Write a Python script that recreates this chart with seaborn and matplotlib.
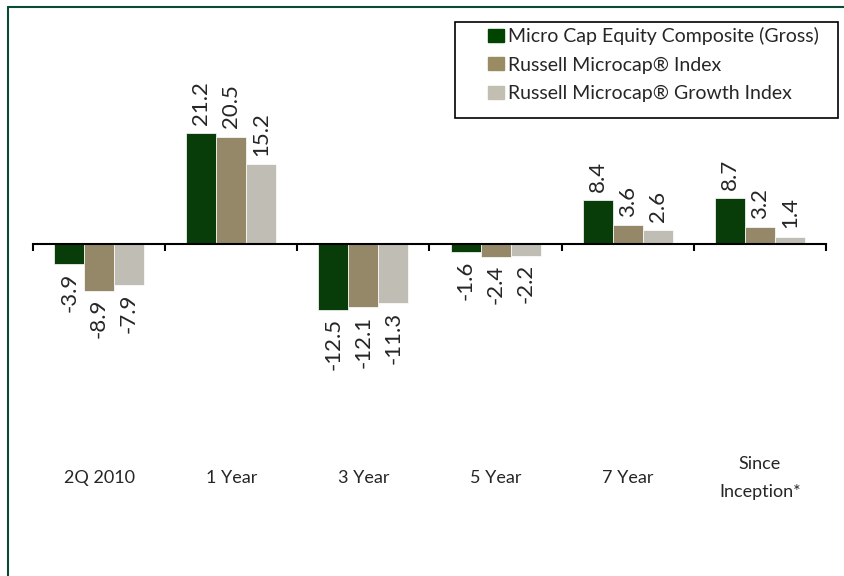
import pandas as pd
import seaborn as sns
import matplotlib.pyplot as plt
from matplotlib.lines import Line2D
from matplotlib.patches import Rectangle

# data
periods = ['2Q 2010', '1 Year', '3 Year', '5 Year', '7 Year', 'Since\nInception*']
series = ['Micro Cap Equity Composite (Gross)',
          'Russell Microcap® Index',
          'Russell Microcap® Growth Index']
composite = [-3.9, 21.2, -12.5, -1.6, 8.4, 8.7]
microcap = [-8.9, 20.5, -12.1, -2.4, 3.6, 3.2]
growth = [-7.9, 15.2, -11.3, -2.2, 2.6, 1.4]
colors = ['#004400', '#9b8b62', '#c2beb2']

rows = []
for name, vals in zip(series, [composite, microcap, growth]):
    for p, v in zip(periods, vals):
        rows.append([p, name, v])
df = pd.DataFrame(rows, columns=['Period', 'Series', 'Value'])

sns.set_style('white')
plt.rcParams['font.family'] = ['Lato', 'DejaVu Sans']

fig = plt.figure(figsize=(8.45, 5.76), dpi=100)
ax = fig.add_axes([33/845, 1 - 453.6/576, 793/845, 419.2/576])

sns.barplot(data=df, x='Period', y='Value', hue='Series', palette=colors,
            width=0.68, gap=0, edgecolor='white', linewidth=0.5,
            legend=False, ax=ax)

ax.set_xlim(-0.5, 5.5)
ax.set_ylim(-40, 40)

for cont in ax.containers:
    ax.bar_label(cont, fmt='%.1f', rotation=90, padding=6, fontsize=16)

# zero axis with boundary ticks
for s in ['top', 'right', 'left']:
    ax.spines[s].set_visible(False)
ax.spines['bottom'].set_position(('data', 0))
ax.spines['bottom'].set_color('black')
ax.spines['bottom'].set_linewidth(1.5)
ax.set_xticks([i - 0.5 for i in range(len(periods) + 1)])
ax.set_xticklabels([])
ax.tick_params(axis='x', direction='out', length=5, width=1.5, color='black', bottom=True)
ax.set_yticks([])
ax.set_xlabel('')
ax.set_ylabel('')

for i, p in enumerate(periods):
    ax.text(i, -44.7, p, ha='center', va='center', fontsize=13,
            linespacing=1.9, clip_on=False)

# legend
handles = [Rectangle((0, 0), 1, 1, color=c) for c in colors]
fig.legend(handles, series, loc='upper left', bbox_to_anchor=(484/845, 1 - 23/576),
           frameon=False, fontsize=14, handlelength=0.85, handleheight=0.65,
           handletextpad=0.2, labelspacing=0.6, borderaxespad=0, borderpad=0.2)
fig.patches.append(Rectangle((455/845, 1 - 118/576), 383/845, 96/576,
                             transform=fig.transFigure, fill=False,
                             edgecolor='black', linewidth=1.2))

# outer frame (left and top)
frame_col = '#0b4a35'
fig.add_artist(Line2D([8/845, 8/845], [0, 1 - 7/576], transform=fig.transFigure,
                      color=frame_col, linewidth=1.5))
fig.add_artist(Line2D([8/845, 1], [1 - 7/576, 1 - 7/576], transform=fig.transFigure,
                      color=frame_col, linewidth=1.5))

fig.savefig('out.png', dpi=100)
